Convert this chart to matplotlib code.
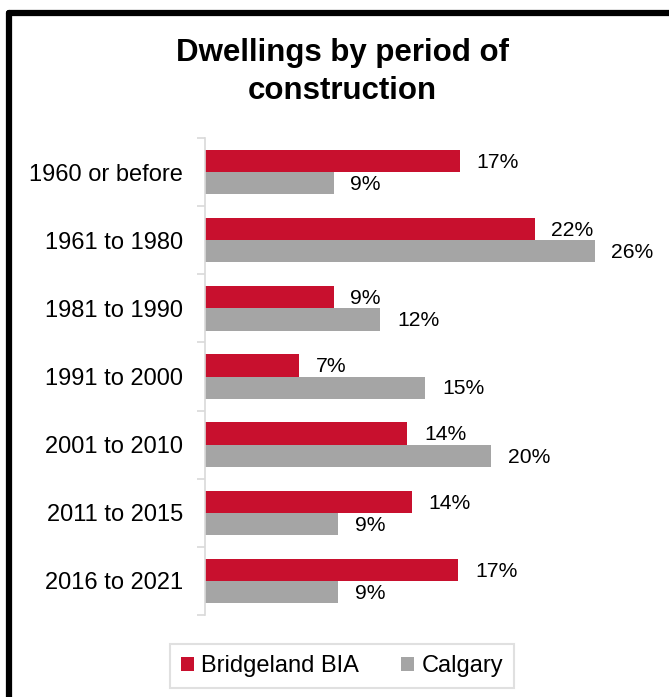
import matplotlib
matplotlib.use("Agg")
import matplotlib.pyplot as plt
from matplotlib.lines import Line2D
from matplotlib.patches import Patch
import numpy as np

plt.rcParams['font.family'] = ['Liberation Sans', 'DejaVu Sans']

categories = ["1960 or before", "1961 to 1980", "1981 to 1990", "1991 to 2000",
              "2001 to 2010", "2011 to 2015", "2016 to 2021"]
bridgeland = [17.0, 22.0, 8.6, 6.3, 13.5, 13.8, 16.9]
calgary = [8.6, 26.0, 11.7, 14.7, 19.1, 8.9, 8.9]
bridgeland_labels = ["17%", "22%", "9%", "7%", "14%", "14%", "17%"]
calgary_labels = ["9%", "26%", "12%", "15%", "20%", "9%", "9%"]
series_names = ["Bridgeland BIA", "Calgary"]

RED = "#C8102E"
GRAY = "#A5A5A5"

W, H = 669, 697
fig = plt.figure(figsize=(W / 100, H / 100), dpi=100)

ax_left = 205 / W
ax_top = 1 - 138 / H
ax_bottom = 1 - 615 / H
ax = fig.add_axes([ax_left, ax_bottom, 0.979 - ax_left, ax_top - ax_bottom])

n = len(categories)
y = np.arange(n)
h = 0.325
ax.barh(y - h / 2, bridgeland, height=h, color=RED, label=series_names[0])
ax.barh(y + h / 2, calgary, height=h, color=GRAY, label=series_names[1])

for i in range(n):
    ax.text(bridgeland[i] + 1.1, y[i] - h / 2 + 0.02, bridgeland_labels[i],
            va='center', ha='left', fontsize=15.2, color='black')
    ax.text(calgary[i] + 1.1, y[i] + h / 2 + 0.02, calgary_labels[i],
            va='center', ha='left', fontsize=15.2, color='black')

ax.set_xlim(0, 30)
ax.set_ylim(n - 0.5, -0.5)
ax.set_yticks(y)
ax.set_yticklabels(categories, fontsize=17)
ax.set_yticks(np.arange(n + 1) - 0.5, minor=True)
ax.tick_params(axis='y', which='major', length=0, pad=16)
ax.tick_params(axis='y', which='minor', length=6, color='#D9D9D9', width=1.2)
ax.set_xticks([])
for s in ['top', 'right', 'bottom']:
    ax.spines[s].set_visible(False)
ax.spines['left'].set_color('#D9D9D9')
ax.spines['left'].set_linewidth(1.2)

fig.text(342 / W, 1 - 72 / H, "Dwellings by period of\nconstruction", ha='center', va='center',
         fontsize=22.5, fontweight='bold', linespacing=1.33)

handles = [Patch(facecolor=RED), Patch(facecolor=GRAY)]
leg = fig.legend(handles, series_names, loc='center', bbox_to_anchor=(342 / W, 1 - 666 / H),
                 ncol=2, fontsize=17, frameon=True, fancybox=False, handlelength=0.55,
                 handleheight=0.55, handletextpad=0.3, columnspacing=1.8,
                 borderpad=0.45, borderaxespad=0)
leg.get_frame().set_edgecolor('#D9D9D9')
leg.get_frame().set_linewidth(1.5)

# outer border (top and left visible)
fig.add_artist(Line2D([9 / W, 9 / W], [1 - 13 / H, 0], transform=fig.transFigure,
                      color='black', linewidth=4.5, solid_capstyle='round'))
fig.add_artist(Line2D([9 / W, 1.01], [1 - 13 / H, 1 - 13 / H], transform=fig.transFigure,
                      color='black', linewidth=4.5, solid_capstyle='round'))

fig.savefig("out.png", dpi=100)
